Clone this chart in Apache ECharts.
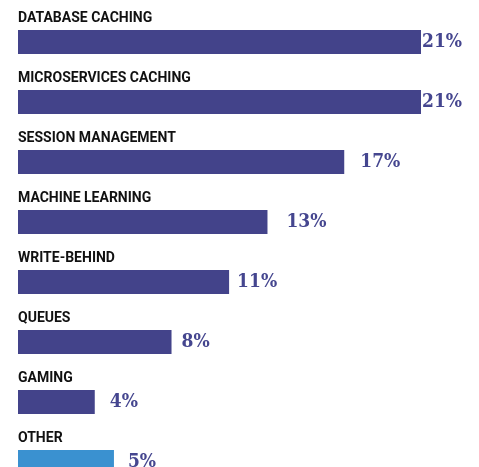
<!DOCTYPE html>
<html>
<head>
<meta charset="utf-8">
<script src="https://cdn.jsdelivr.net/npm/echarts@6/dist/echarts.min.js"></script>
<style>
html,body{margin:0;padding:0;background:#fff;overflow:hidden;}
#chart{width:479px;height:510px;}
</style>
</head>
<body>
<div id="chart"></div>
<script>
const categories = ['DATABASE CACHING','MICROSERVICES CACHING','SESSION MANAGEMENT','MACHINE LEARNING','WRITE-BEHIND','QUEUES','GAMING','OTHER'];
const values = [21, 21, 17, 13, 11, 8, 4, 5];
const barColors = ['#43438a','#43438a','#43438a','#43438a','#43438a','#43438a','#43438a','#3a91d0'];
const labelDistance = [1, 1, 16, 19, 8, 10, 15, 14];

const chart = echarts.init(document.getElementById('chart'));
chart.setOption({
  animation: false,
  grid: { left: 18, top: 12, width: 403, height: 480, containLabel: false },
  xAxis: { type: 'value', min: 0, max: 21, show: false },
  yAxis: {
    type: 'category', data: categories, inverse: true,
    axisLine: { show: false }, axisTick: { show: false }, splitLine: { show: false },
    axisLabel: {
      inside: true, margin: 0, align: 'left', verticalAlign: 'bottom',
      padding: [0, 0, 17, 0], lineHeight: 14,
      fontFamily: 'Roboto', fontWeight: 'bold', fontSize: 14, color: '#111111'
    }
  },
  series: [{
    type: 'bar', barWidth: 24,
    data: values.map((v, i) => ({
      value: v,
      itemStyle: { color: barColors[i] },
      label: { distance: labelDistance[i] }
    })),
    label: {
      show: true, position: 'right', formatter: '{c}%',
      fontFamily: '"DejaVu Serif Condensed", "DejaVu Serif"', fontWeight: 'bold', fontSize: 19, color: '#45468f'
    }
  }]
});
</script>
</body>
</html>
